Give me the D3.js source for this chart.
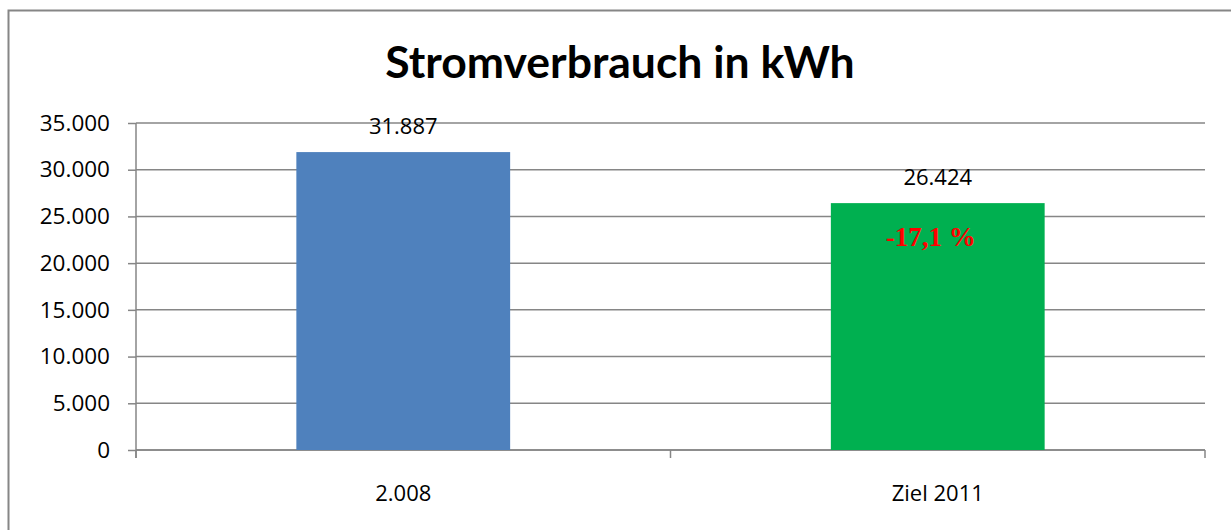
<!DOCTYPE html>
<html>
<head>
<meta charset="utf-8">
<script src="https://cdn.jsdelivr.net/npm/d3@7"></script>
<style>
  body { margin: 0; background: #fff; }
  svg { display: block; }
</style>
</head>
<body>
<svg width="1231" height="530"></svg>
<script>
// data
var categories = ['2.008', 'Ziel 2011'];
var values = [31887, 26424];
var barColors = ['#4f81bd', '#00b050'];
var yTicks = [0, 5000, 10000, 15000, 20000, 25000, 30000, 35000];
var title = 'Stromverbrauch in kWh';
var note = '-17,1 %';

var width = 1231,
    height = 530,
    plot = {left: 136, right: 1205, top: 123, bottom: 450};

var de = d3.formatLocale({decimal: ',', thousands: '.', grouping: [3], currency: ['', ' €']});
var fmt = de.format(',');

var labelFont = '"Open Sans", sans-serif';

var svg = d3.select('svg');

// outer frame (right and bottom edges fall outside the picture)
svg.append('rect')
    .attr('x', 8.5).attr('y', 10.5)
    .attr('width', 1240).attr('height', 540)
    .attr('fill', 'none')
    .attr('stroke', '#868686')
    .attr('stroke-width', 2);

svg.append('text')
    .attr('x', 620)
    .attr('y', 78)
    .attr('text-anchor', 'middle')
    .style('font-family', 'Lato, "Open Sans", sans-serif')
    .style('font-weight', 'bold')
    .style('font-size', '44.5px')
    .text(title);

var x = d3.scaleBand()
    .domain(categories)
    .range([plot.left, plot.right])
    .paddingInner(0.6)
    .paddingOuter(0.3);

var y = d3.scaleLinear()
    .domain([0, 35000])
    .range([plot.bottom, plot.top]);

// gridlines
svg.append('g')
    .selectAll('line')
    .data(yTicks)
    .enter().append('line')
    .attr('x1', plot.left).attr('x2', plot.right)
    .attr('y1', function(d) { return y(d); })
    .attr('y2', function(d) { return y(d); })
    .attr('stroke', '#868686')
    .attr('stroke-width', 1.5);

// y axis
var yAxis = d3.axisLeft(y)
    .tickValues(yTicks)
    .tickFormat(fmt)
    .tickSize(8)
    .tickPadding(18);

var gy = svg.append('g')
    .attr('transform', 'translate(' + plot.left + ',0)')
    .call(yAxis);
gy.select('.domain').remove();
gy.append('line')
    .attr('x1', 0).attr('x2', 0)
    .attr('y1', plot.top).attr('y2', plot.bottom + 8)
    .attr('stroke', '#868686').attr('stroke-width', 1.5);
gy.selectAll('.tick line').attr('stroke', '#868686').attr('stroke-width', 1.5);
gy.selectAll('.tick text')
    .style('font-family', labelFont)
    .style('font-size', '22.5px')
    .attr('fill', '#000');

// x axis: boundaries between categories
var bounds = d3.range(categories.length + 1).map(function(i) {
  return x.range()[0] + i * x.step();
});
var gx = svg.append('g');
gx.append('line')
    .attr('x1', plot.left).attr('x2', plot.right)
    .attr('y1', plot.bottom).attr('y2', plot.bottom)
    .attr('stroke', '#868686').attr('stroke-width', 1.5);
gx.selectAll('.tk')
    .data(bounds)
    .enter().append('line')
    .attr('x1', function(d) { return d; })
    .attr('x2', function(d) { return d; })
    .attr('y1', plot.bottom).attr('y2', plot.bottom + 8)
    .attr('stroke', '#868686').attr('stroke-width', 1.5);
gx.selectAll('text')
    .data(categories)
    .enter().append('text')
    .attr('x', function(d) { return x(d) + x.bandwidth() / 2; })
    .attr('y', 501)
    .attr('text-anchor', 'middle')
    .style('font-family', labelFont)
    .style('font-size', '22px')
    .text(function(d) { return d; });

// bars
svg.append('g')
    .selectAll('rect')
    .data(values)
    .enter().append('rect')
    .attr('x', function(d, i) { return x(categories[i]); })
    .attr('y', function(d) { return y(d); })
    .attr('width', x.bandwidth())
    .attr('height', function(d) { return y(0) - y(d); })
    .attr('fill', function(d, i) { return barColors[i]; });

// value labels
svg.append('g')
    .selectAll('text')
    .data(values)
    .enter().append('text')
    .attr('x', function(d, i) { return x(categories[i]) + x.bandwidth() / 2; })
    .attr('y', function(d) { return y(d) - 18; })
    .attr('text-anchor', 'middle')
    .style('font-family', labelFont)
    .style('font-size', '22px')
    .text(function(d) { return fmt(d); });

// change note inside second bar
svg.append('text')
    .attr('x', x(categories[1]) + x.bandwidth() / 2 - 7)
    .attr('y', y(values[1]) + 43)
    .attr('text-anchor', 'middle')
    .attr('fill', '#ff0000')
    .style('font-family', '"Liberation Serif", "Times New Roman", serif')
    .style('font-weight', 'bold')
    .style('font-size', '27px')
    .text(note);
</script>
</body>
</html>
